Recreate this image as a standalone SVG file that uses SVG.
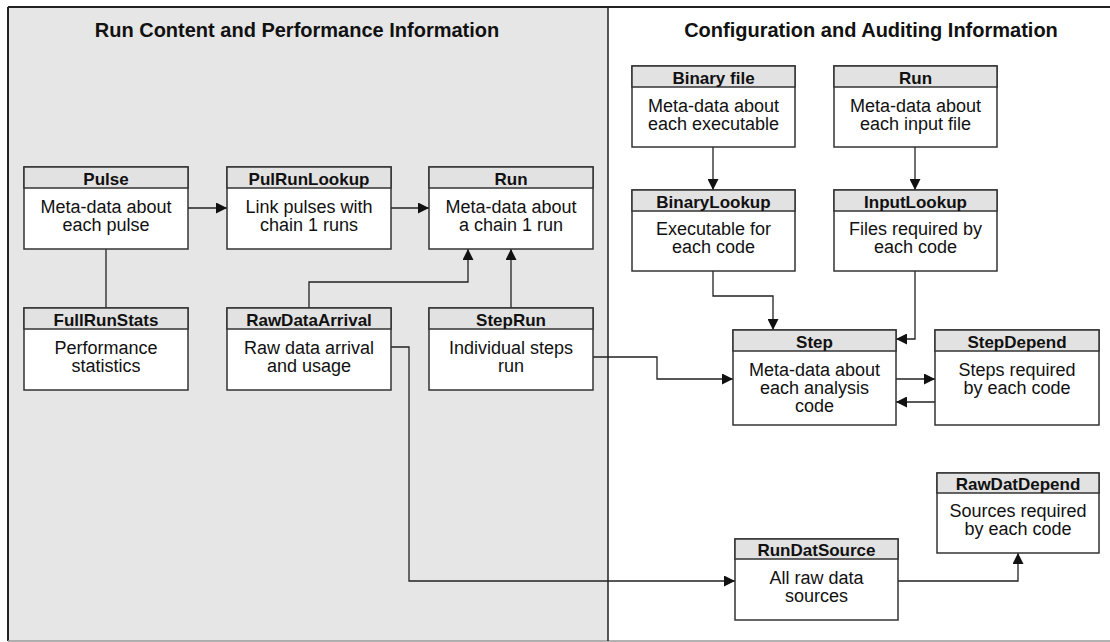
<svg xmlns="http://www.w3.org/2000/svg" width="1110" height="642" viewBox="0 0 1110 642">
<defs>
<marker id="arr" markerUnits="userSpaceOnUse" markerWidth="11" markerHeight="11" refX="11" refY="5.5" orient="auto">
<path d="M0,0 L11,5.5 L0,11 z" fill="#111"/>
</marker>
<style>
text{font-family:"Liberation Sans",Arial,Helvetica,sans-serif;fill:#111;text-anchor:middle}
.title{font-size:20px;font-weight:bold}
.hd{font-size:17px;font-weight:bold}
.bd{font-size:18px}
.box{fill:#fff;stroke:#333;stroke-width:1.5}
.hdr{fill:#e2e2e2;stroke:#333;stroke-width:1.5}
.con{fill:none;stroke:#222;stroke-width:1.3}
.arrow{marker-end:url(#arr)}
</style>
</defs>
<rect x="0" y="0" width="1110" height="642" fill="#fff"/>
<rect x="8" y="7" width="600" height="634" fill="#e6e6e6"/>
<line x1="8" y1="7" x2="1110" y2="7" stroke="#222" stroke-width="2"/>
<line x1="8" y1="7" x2="8" y2="641" stroke="#222" stroke-width="2"/>
<line x1="8" y1="641" x2="1110" y2="641" stroke="#999" stroke-width="1.5"/>
<line x1="608" y1="7" x2="608" y2="641" stroke="#222" stroke-width="1.5"/>
<text class="title" x="297" y="37">Run Content and Performance Information</text>
<text class="title" x="871" y="37">Configuration and Auditing Information</text>

<g id="connectors">
<path class="con arrow" d="M188,208 H227"/>
<path class="con arrow" d="M391,208 H429"/>
<path class="con" d="M106,249 V308"/>
<path class="con arrow" d="M309,308 V282 H468 V249"/>
<path class="con arrow" d="M511,308 V249"/>
<path class="con arrow" d="M391,347 H409 V581 H735"/>
<path class="con arrow" d="M593,357 H657 V379 H733"/>
<path class="con arrow" d="M713,147 V190"/>
<path class="con arrow" d="M915,147 V190"/>
<path class="con arrow" d="M713,271 V296 H773 V330"/>
<path class="con arrow" d="M915,271 V339 H896"/>
<path class="con arrow" d="M896,379 H935"/>
<path class="con arrow" d="M935,402 H896"/>
<path class="con arrow" d="M898,581 H1018 V553"/>
</g>

<g id="pulse">
<rect class="box" x="24" y="167" width="164" height="82"/>
<rect class="hdr" x="24" y="167" width="164" height="21"/>
<text class="hd" x="106" y="185">Pulse</text>
<text class="bd" x="106" y="213">Meta-data about</text>
<text class="bd" x="106" y="231">each pulse</text>
</g>
<g id="pulrunlookup">
<rect class="box" x="227" y="167" width="164" height="82"/>
<rect class="hdr" x="227" y="167" width="164" height="21"/>
<text class="hd" x="309" y="185">PulRunLookup</text>
<text class="bd" x="309" y="213">Link pulses with</text>
<text class="bd" x="309" y="231">chain 1 runs</text>
</g>
<g id="run-left">
<rect class="box" x="429" y="167" width="164" height="82"/>
<rect class="hdr" x="429" y="167" width="164" height="21"/>
<text class="hd" x="511" y="185">Run</text>
<text class="bd" x="511" y="213">Meta-data about</text>
<text class="bd" x="511" y="231">a chain 1 run</text>
</g>
<g id="fullrunstats">
<rect class="box" x="24" y="308" width="164" height="82"/>
<rect class="hdr" x="24" y="308" width="164" height="21"/>
<text class="hd" x="106" y="326">FullRunStats</text>
<text class="bd" x="106" y="354">Performance</text>
<text class="bd" x="106" y="372">statistics</text>
</g>
<g id="rawdataarrival">
<rect class="box" x="227" y="308" width="164" height="82"/>
<rect class="hdr" x="227" y="308" width="164" height="21"/>
<text class="hd" x="309" y="326">RawDataArrival</text>
<text class="bd" x="309" y="354">Raw data arrival</text>
<text class="bd" x="309" y="372">and usage</text>
</g>
<g id="steprun">
<rect class="box" x="429" y="308" width="164" height="82"/>
<rect class="hdr" x="429" y="308" width="164" height="21"/>
<text class="hd" x="511" y="326">StepRun</text>
<text class="bd" x="511" y="354">Individual steps</text>
<text class="bd" x="511" y="372">run</text>
</g>
<g id="binaryfile">
<rect class="box" x="632" y="66" width="163" height="81"/>
<rect class="hdr" x="632" y="66" width="163" height="21"/>
<text class="hd" x="713.5" y="84">Binary file</text>
<text class="bd" x="713.5" y="112">Meta-data about</text>
<text class="bd" x="713.5" y="130">each executable</text>
</g>
<g id="run-right">
<rect class="box" x="834" y="66" width="163" height="81"/>
<rect class="hdr" x="834" y="66" width="163" height="21"/>
<text class="hd" x="915.5" y="84">Run</text>
<text class="bd" x="915.5" y="112">Meta-data about</text>
<text class="bd" x="915.5" y="130">each input file</text>
</g>
<g id="binarylookup">
<rect class="box" x="632" y="190" width="163" height="81"/>
<rect class="hdr" x="632" y="190" width="163" height="21"/>
<text class="hd" x="713.5" y="208">BinaryLookup</text>
<text class="bd" x="713.5" y="235">Executable for</text>
<text class="bd" x="713.5" y="253">each code</text>
</g>
<g id="inputlookup">
<rect class="box" x="834" y="190" width="163" height="81"/>
<rect class="hdr" x="834" y="190" width="163" height="21"/>
<text class="hd" x="915.5" y="208">InputLookup</text>
<text class="bd" x="915.5" y="235">Files required by</text>
<text class="bd" x="915.5" y="253">each code</text>
</g>
<g id="step">
<rect class="box" x="733" y="330" width="163" height="95"/>
<rect class="hdr" x="733" y="330" width="163" height="21"/>
<text class="hd" x="814.5" y="348">Step</text>
<text class="bd" x="814.5" y="376">Meta-data about</text>
<text class="bd" x="814.5" y="394">each analysis</text>
<text class="bd" x="814.5" y="412">code</text>
</g>
<g id="stepdepend">
<rect class="box" x="935" y="330" width="164" height="95"/>
<rect class="hdr" x="935" y="330" width="164" height="21"/>
<text class="hd" x="1017" y="348">StepDepend</text>
<text class="bd" x="1017" y="376">Steps required</text>
<text class="bd" x="1017" y="394">by each code</text>
</g>
<g id="rawdatdepend">
<rect class="box" x="937" y="473" width="162" height="80"/>
<rect class="hdr" x="937" y="473" width="162" height="20"/>
<text class="hd" x="1018" y="490">RawDatDepend</text>
<text class="bd" x="1018" y="517">Sources required</text>
<text class="bd" x="1018" y="535">by each code</text>
</g>
<g id="rundatsource">
<rect class="box" x="735" y="539" width="163" height="81"/>
<rect class="hdr" x="735" y="539" width="163" height="20"/>
<text class="hd" x="816.5" y="556">RunDatSource</text>
<text class="bd" x="816.5" y="584">All raw data</text>
<text class="bd" x="816.5" y="602">sources</text>
</g>
</svg>
